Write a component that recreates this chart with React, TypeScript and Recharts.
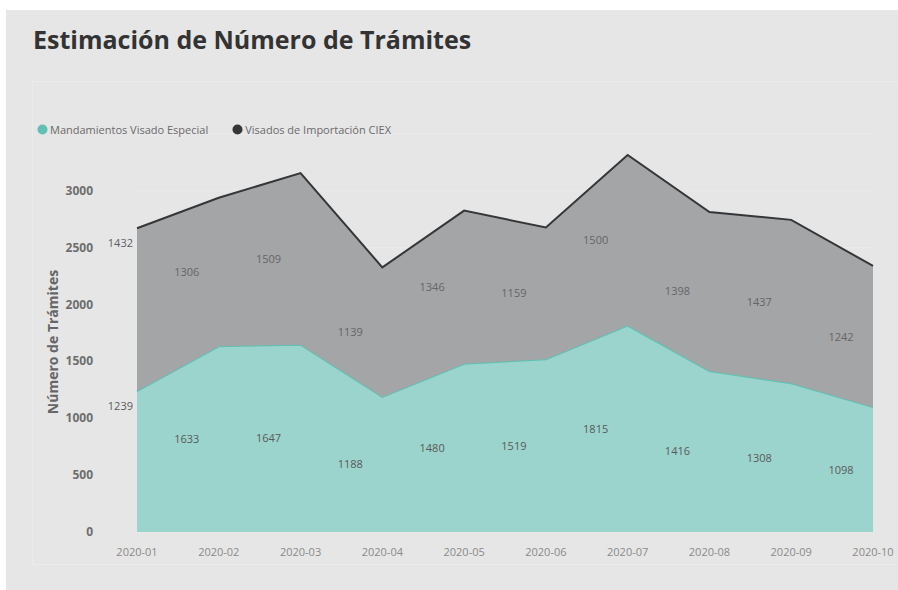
import React from 'react';
import {
  Area,
  CartesianGrid,
  ComposedChart,
  LabelList,
  Legend,
  Line,
  XAxis,
  YAxis,
} from 'recharts';

const months = [
  '2020-01',
  '2020-02',
  '2020-03',
  '2020-04',
  '2020-05',
  '2020-06',
  '2020-07',
  '2020-08',
  '2020-09',
  '2020-10',
];
const mandamientos = [1239, 1633, 1647, 1188, 1480, 1519, 1815, 1416, 1308, 1098];
const visadosCiex = [1432, 1306, 1509, 1139, 1346, 1159, 1500, 1398, 1437, 1242];
const yTicks = [0, 500, 1000, 1500, 2000, 2500, 3000];

const seriesNames = ['Mandamientos Visado Especial', 'Visados de Importación CIEX'];
const seriesColors = ['#5fc1b5', '#343638'];

// mid points of each stacked band, used only to place the value labels
const data = months.map((m, i) => ({
  month: m,
  mand: mandamientos[i],
  ciex: visadosCiex[i],
  mandMid: mandamientos[i] / 2,
  ciexMid: mandamientos[i] + visadosCiex[i] / 2,
}));

const font = '"Open Sans", "Segoe UI", sans-serif';

const bandLabel = (color: string) => (props: any) => {
  const { x, y, value, index } = props;
  if (index === 0) return null;
  return (
    <text
      x={x - 32}
      y={y}
      dy={4}
      textAnchor="middle"
      fontSize={11}
      fontFamily={font}
      fill={color}
    >
      {value}
    </text>
  );
};

const firstLabel = (color: string) => (props: any) => {
  const { x, y, value, index } = props;
  if (index !== 0) return null;
  return (
    <text
      x={x - 4}
      y={y}
      dy={19}
      textAnchor="end"
      fontSize={11}
      fontFamily={font}
      fill={color}
    >
      {value}
    </text>
  );
};

const renderLegend = () => (
  <div style={{ display: 'flex', alignItems: 'center', fontFamily: font, fontSize: 11, color: '#6a6a6a' }}>
    {seriesNames.map((name, i) => (
      <span key={name} style={{ display: 'flex', alignItems: 'center', marginRight: i === 0 ? 24 : 0 }}>
        <svg width="11" height="11" style={{ marginRight: 2 }}>
          <circle cx="5.5" cy="5.5" r="5" fill={seriesColors[i]} />
        </svg>
        {name}
      </span>
    ))}
  </div>
);

const YTick = (props: any) => (
  <text
    x={93}
    y={props.y}
    dy={4}
    textAnchor="end"
    fontSize={12}
    fontWeight={700}
    fontFamily={font}
    fill="#6e6e6e"
  >
    {props.payload.value}
  </text>
);

const XTick = (props: any) => (
  <text
    x={props.x}
    y={props.y}
    dy={16}
    textAnchor="middle"
    fontSize={11}
    fontFamily={font}
    fill="#8a8a8a"
  >
    {props.payload.value}
  </text>
);

export default function App() {
  return (
    <div style={{ position: 'absolute', left: 0, top: 0, width: 898, height: 590, background: '#ffffff', overflow: 'hidden' }}>
      <div style={{ position: 'absolute', left: 6, top: 10, width: 892, height: 580, background: '#e6e6e6' }} />
      <div
        style={{
          position: 'absolute',
          left: 32,
          top: 81,
          width: 880,
          height: 482,
          border: '1px solid #ebebeb',
        }}
      />
      <svg style={{ position: 'absolute', left: 0, top: 0 }} width={898} height={590}>
        <text x={33} y={49} fontFamily={font} fontWeight={700} fontSize={25} fill="#333333">
          Estimación de Número de Trámites
        </text>
        <text
          x={0}
          y={0}
          transform="translate(58 342) rotate(-90)"
          textAnchor="middle"
          fontFamily={font}
          fontWeight={700}
          fontSize={14}
          fill="#666666"
        >
          Número de Trámites
        </text>
      </svg>
      <div style={{ position: 'absolute', left: 0, top: 0 }}>
        <ComposedChart
          width={898}
          height={590}
          data={data}
          margin={{ top: 119, right: 25, bottom: 28, left: 93 }}
        >
          <CartesianGrid vertical={false} stroke="#ececec" strokeWidth={1} />
          <XAxis
            dataKey="month"
            scale="point"
            padding={{ left: 0, right: 0 }}
            axisLine={false}
            tickLine={false}
            tick={<XTick />}
            interval={0}
          />
          <YAxis
            width={44}
            domain={[0, 3500]}
            ticks={yTicks}
            axisLine={false}
            tickLine={false}
            tick={<YTick />}
          />
          <Legend
            verticalAlign="top"
            align="left"
            content={renderLegend}
            wrapperStyle={{ position: 'absolute', left: 37, top: 122, width: 500 }}
          />
          <Area
            type="linear"
            dataKey="mand"
            name={seriesNames[0]}
            stackId="a"
            stroke="#5fc1b5"
            strokeWidth={2}
            fill="#9ad4cc"
            fillOpacity={1}
            isAnimationActive={false}
          >
            <LabelList dataKey="mand" content={firstLabel('#5a5a5a')} />
          </Area>
          <Area
            type="linear"
            dataKey="ciex"
            name={seriesNames[1]}
            stackId="a"
            stroke="#343638"
            strokeWidth={2}
            fill="#a3a5a7"
            fillOpacity={1}
            isAnimationActive={false}
          >
            <LabelList dataKey="ciex" content={firstLabel('#5e5e5e')} />
          </Area>
          <Line
            dataKey="mandMid"
            stroke="none"
            dot={false}
            activeDot={false}
            legendType="none"
            isAnimationActive={false}
          >
            <LabelList dataKey="mand" content={bandLabel('#5a5a5a')} />
          </Line>
          <Line
            dataKey="ciexMid"
            stroke="none"
            dot={false}
            activeDot={false}
            legendType="none"
            isAnimationActive={false}
          >
            <LabelList dataKey="ciex" content={bandLabel('#666666')} />
          </Line>
        </ComposedChart>
      </div>
    </div>
  );
}
